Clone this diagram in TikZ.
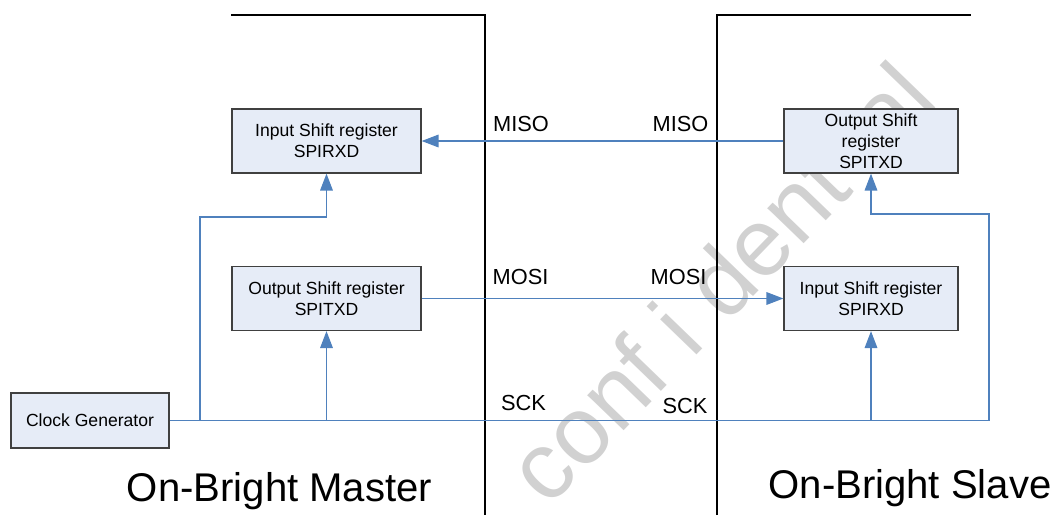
\documentclass[tikz,border=0pt]{standalone}
\usepackage{fontspec}
\setmainfont{Liberation Sans}
\newfontfamily\wmfont{Liberation Sans}
\usetikzlibrary{arrows.meta,positioning}
\definecolor{boxfill}{RGB}{230,236,247}
\definecolor{boxline}{RGB}{64,64,64}
\definecolor{wireblue}{RGB}{79,129,189}

\begin{document}
\begin{tikzpicture}[x=0.025cm,y=-0.025cm,
    reg/.style={draw=boxline,fill=boxfill,line width=0.9pt,align=center,inner sep=0pt,minimum height=1.6cm,font=\fontsize{12.5}{15}\selectfont},
    wire/.style={draw=wireblue,line width=0.8pt},
    feed/.style={wire,-{Triangle[length=12pt,width=9pt,fill=wireblue]}},
    wall/.style={line width=2pt},
    sig/.style={font=\fontsize{15.5}{18}\selectfont,anchor=base},
    side/.style={font=\fontsize{28.5}{34}\selectfont,anchor=base}]
            \useasboundingbox (0,0) rectangle (1053,515);

            \node[text=black!18,rotate=46,font=\wmfont\fontsize{68}{70}\selectfont] (wm) at (720,282) {conf i dent ial};

            \draw[wall] (231,15) -- (485,15) -- (485,515);
            \draw[wall] (717,515) -- (717,15) -- (971,15);

            \node[reg, minimum width=4.725cm] (mIn) at (326.5,141) {Input Shift register\\SPIRXD};
            \node[reg, minimum width=4.725cm] (mOut) at (326.5,298.5) {Output Shift register\\SPITXD};
            \node[reg, minimum width=3.95cm, minimum height=1.375cm] (clk) at (90,420.5) {Clock Generator};
            \node[reg, minimum width=4.35cm] (sOut) at (871,141) {Output Shift\\register\\SPITXD};
            \node[reg, minimum width=4.35cm] (sIn) at (871,298.5) {Input Shift register\\SPIRXD};

            \node[sig] (misoM) at (521,131) {MISO};
            \node[sig] (misoS) at (680.5,131) {MISO};
            \node[sig] (mosiM) at (520.5,284) {MOSI};
            \node[sig] (mosiS) at (678.5,284) {MOSI};
            \node[sig] (sckM) at (523.5,410) {SCK};
            \node[sig] (sckS) at (685,413) {SCK};

            \node[side] (master) at (279.5,501) {On-Bright Master};
            \node[side] (slave) at (910,498) {On-Bright Slave};

            \draw[feed] (sOut.west) -- (mIn.east);
            \draw[feed] (mOut.east) -- (sIn.west);
            \draw[feed] (clk.east) -- (989,420.5) -- (989,214) -| (sOut.south);
            \draw[feed] (sIn.south |- clk.east) -- (sIn.south);
            \draw[feed] (200,420.5) -- (200,217) -| (mIn.south);
            \draw[feed] (mOut.south |- clk.east) -- (mOut.south);
        \end{tikzpicture}
\end{document}
